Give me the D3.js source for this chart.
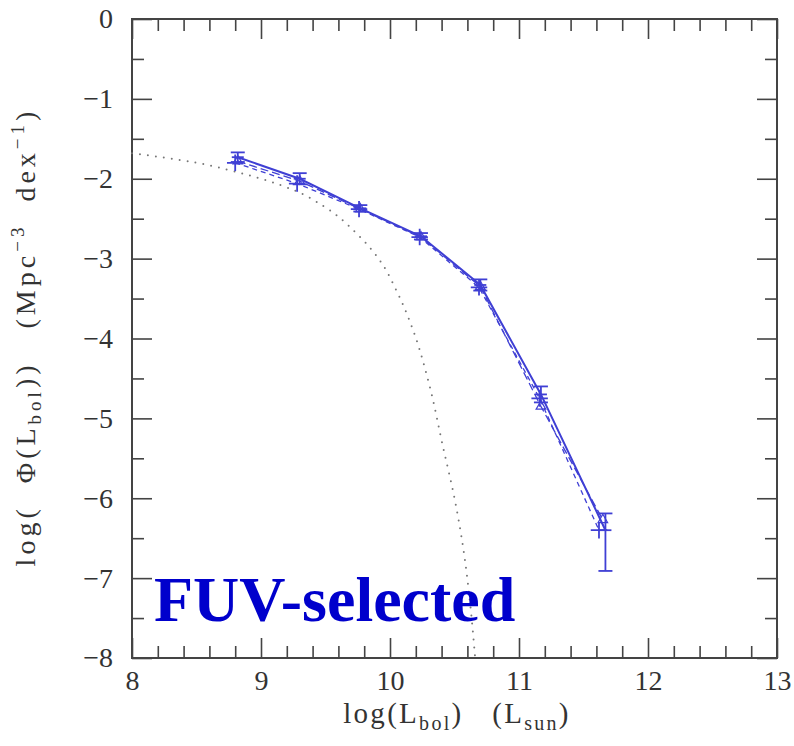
<!DOCTYPE html>
<html>
<head>
<meta charset="utf-8">
<script src="https://cdn.jsdelivr.net/npm/d3@7"></script>
<style>
  body { margin: 0; background: #fff; }
  svg { display: block; }
</style>
</head>
<body>
<div id="chart"></div>
<script>
// luminosity bins, log(L_bol)
const lumBins = [8.82, 9.30, 9.77, 10.24, 10.70, 11.17, 11.67];
// main estimate (solid, error bars)
const phiSolid = [-1.73, -2.00, -2.37, -2.72, -3.33, -4.70, -6.40];
const errUp = [0.06, 0.07, 0.04, 0.04, 0.07, 0.10, 0.21];
const errDown = [0.06, 0.07, 0.04, 0.04, 0.07, 0.10, 0.51];
// second estimate (dashed, crosses)
const lumBinsCross = [8.80, 9.28, 9.76, 10.23, 10.69, 11.16, 11.62];
const phiCross = [-1.80, -2.06, -2.38, -2.73, -3.36, -4.75, -6.40];
// third estimate (dashed, open triangles)
const lumBinsTri = [8.82, 9.30, 9.77, 10.24, 10.70, 11.17, 11.65];
const phiTri = [-1.78, -2.03, -2.38, -2.73, -3.35, -4.85, -6.27];
// local reference function (dotted)
const refLum = [8.0, 8.5, 8.75, 9.0, 9.25, 9.5, 9.75, 9.92, 10.05, 10.18, 10.3, 10.41, 10.5, 10.57, 10.62, 10.66];
const refPhi = [-1.68, -1.80, -1.89, -2.00, -2.14, -2.36, -2.70, -3.02, -3.40, -3.90, -4.55, -5.35, -6.00, -6.65, -7.30, -8.00];

const xMajor = [8, 9, 10, 11, 12, 13];
const yMajor = [0, -1, -2, -3, -4, -5, -6, -7, -8];

const width = 794, height = 746;
const margin = {top: 19, right: 17, bottom: 88, left: 132};

const svg = d3.select("#chart").append("svg")
    .attr("width", width)
    .attr("height", height);

const x = d3.scaleLinear().domain([8, 13]).range([margin.left, width - margin.right]);
const y = d3.scaleLinear().domain([-8, 0]).range([height - margin.bottom, margin.top]);

const xMinor = d3.range(8, 13.001, 0.2).filter(v => Math.abs(v - Math.round(v)) > 0.01);
const yMinor = d3.range(-7.5, 0, 1);

const axisColor = "#444";
const fontTick = "Liberation Serif, Times New Roman, serif";
const bottomY = y(-8), topY = y(0), leftX = x(8), rightX = x(13);

function styleAxis(g) {
    g.select(".domain").remove();
    g.selectAll(".tick line").attr("stroke", axisColor).attr("stroke-width", 1.6);
    g.selectAll(".tick text")
        .attr("fill", "#333")
        .style("font-family", fontTick)
        .style("font-size", "28px");
}

// bottom
svg.append("g").attr("transform", `translate(0,${bottomY})`)
    .call(d3.axisBottom(x).tickValues(xMajor).tickSize(-20).tickPadding(12).tickFormat(d3.format("d")))
    .call(styleAxis);
svg.append("g").attr("transform", `translate(0,${bottomY})`)
    .call(d3.axisBottom(x).tickValues(xMinor).tickSize(-12).tickFormat(""))
    .call(styleAxis);
// top
svg.append("g").attr("transform", `translate(0,${topY})`)
    .call(d3.axisTop(x).tickValues(xMajor).tickSize(-20).tickFormat(""))
    .call(styleAxis);
svg.append("g").attr("transform", `translate(0,${topY})`)
    .call(d3.axisTop(x).tickValues(xMinor).tickSize(-12).tickFormat(""))
    .call(styleAxis);
// left
svg.append("g").attr("transform", `translate(${leftX},0)`)
    .call(d3.axisLeft(y).tickValues(yMajor).tickSize(-20).tickPadding(19).tickFormat(d => d === 0 ? "0" : "\u2212" + Math.abs(d)))
    .call(styleAxis);
svg.append("g").attr("transform", `translate(${leftX},0)`)
    .call(d3.axisLeft(y).tickValues(yMinor).tickSize(-12).tickFormat(""))
    .call(styleAxis);
// right
svg.append("g").attr("transform", `translate(${rightX},0)`)
    .call(d3.axisRight(y).tickValues(yMajor).tickSize(-20).tickFormat(""))
    .call(styleAxis);
svg.append("g").attr("transform", `translate(${rightX},0)`)
    .call(d3.axisRight(y).tickValues(yMinor).tickSize(-12).tickFormat(""))
    .call(styleAxis);

// frame
svg.append("rect")
    .attr("x", leftX).attr("y", topY)
    .attr("width", rightX - leftX).attr("height", bottomY - topY)
    .attr("fill", "none").attr("stroke", axisColor).attr("stroke-width", 2);

const plot = svg.append("g");

// dotted reference curve
const refData = refLum.map((v, i) => ({x: v, y: refPhi[i]}));
plot.append("path")
    .datum(refData)
    .attr("d", d3.line().x(d => x(d.x)).y(d => y(d.y)).curve(d3.curveMonotoneY))
    .attr("fill", "none")
    .attr("stroke", "#777")
    .attr("stroke-width", 2)
    .attr("stroke-linecap", "round")
    .attr("stroke-dasharray", "0,8");

const blue = "#3f3fd4";
const line = d3.line().x(d => x(d.x)).y(d => y(d.y));

const triData = lumBinsTri.map((v, i) => ({x: v, y: phiTri[i]}));
const crossData = lumBinsCross.map((v, i) => ({x: v, y: phiCross[i]}));
const solidData = lumBins.map((v, i) => ({x: v, y: phiSolid[i], up: errUp[i], dn: errDown[i]}));

plot.append("path").datum(triData).attr("d", line)
    .attr("fill", "none").attr("stroke", blue).attr("stroke-width", 1.3)
    .attr("stroke-dasharray", "8,4");
plot.append("path").datum(crossData).attr("d", line)
    .attr("fill", "none").attr("stroke", blue).attr("stroke-width", 1.3)
    .attr("stroke-dasharray", "5,4");
plot.append("path").datum(solidData).attr("d", line)
    .attr("fill", "none").attr("stroke", blue).attr("stroke-width", 2);

// open triangles
plot.append("g").selectAll("path")
    .data(triData)
    .join("path")
    .attr("transform", d => `translate(${x(d.x)},${y(d.y)})`)
    .attr("d", d3.symbol(d3.symbolTriangle, 40))
    .attr("fill", "none").attr("stroke", blue).attr("stroke-width", 1.2);

// crosses
plot.append("g").selectAll("path")
    .data(crossData)
    .join("path")
    .attr("d", d3.symbol(d3.symbolTimes, 90))
    .attr("fill", "none").attr("stroke", blue).attr("stroke-width", 1.8)
    .attr("transform", d => `translate(${x(d.x)},${y(d.y)}) rotate(45)`);

// error bars
const eb = plot.append("g").attr("stroke", blue).attr("stroke-width", 1.8).attr("fill", "none");
eb.selectAll("line.v").data(solidData).join("line").attr("class", "v")
    .attr("x1", d => x(d.x)).attr("x2", d => x(d.x))
    .attr("y1", d => y(d.y + d.up)).attr("y2", d => y(d.y - d.dn));
eb.selectAll("line.t").data(solidData).join("line").attr("class", "t")
    .attr("x1", d => x(d.x) - 7).attr("x2", d => x(d.x) + 7)
    .attr("y1", d => y(d.y + d.up)).attr("y2", d => y(d.y + d.up));
eb.selectAll("line.b").data(solidData).join("line").attr("class", "b")
    .attr("x1", d => x(d.x) - 7).attr("x2", d => x(d.x) + 7)
    .attr("y1", d => y(d.y - d.dn)).attr("y2", d => y(d.y - d.dn));
eb.selectAll("line.h").data(solidData).join("line").attr("class", "h")
    .attr("x1", d => x(d.x) - 6).attr("x2", d => x(d.x) + 6)
    .attr("y1", d => y(d.y)).attr("y2", d => y(d.y));

// axis titles
const titleFont = "Liberation Serif, Times New Roman, serif";
const xt = svg.append("text")
    .attr("x", 457)
    .attr("y", 723)
    .attr("text-anchor", "middle")
    .attr("fill", "#333")
    .style("font-family", titleFont)
    .style("font-size", "29px")
    .style("letter-spacing", "2.3px")
    .style("white-space", "pre");
xt.append("tspan").text("log(L");
xt.append("tspan").attr("dy", 7).style("font-size", "20px").text("bol");
xt.append("tspan").attr("dy", -7).text(")   (L");
xt.append("tspan").attr("dy", 7).style("font-size", "20px").text("sun");
xt.append("tspan").attr("dy", -7).text(")");

const yt = svg.append("text")
    .attr("transform", `translate(35,337) rotate(-90)`)
    .attr("text-anchor", "middle")
    .attr("fill", "#333")
    .style("font-family", titleFont)
    .style("font-size", "28px")
    .style("letter-spacing", "4px")
    .style("white-space", "pre");
yt.append("tspan").text("log(  \u03A6(L");
yt.append("tspan").attr("dy", 6).style("font-size", "19px").text("bol");
yt.append("tspan").attr("dy", -6).text("))   (Mpc");
yt.append("tspan").attr("dy", -11).style("font-size", "19px").text("\u22123");
yt.append("tspan").attr("dy", 11).text("  dex");
yt.append("tspan").attr("dy", -11).style("font-size", "19px").text("\u22121");
yt.append("tspan").attr("dy", 11).text(")");

// label
svg.append("text")
    .attr("x", 154)
    .attr("y", 621)
    .attr("fill", "#0000cc")
    .style("font-family", "Liberation Serif, Times New Roman, serif")
    .style("font-weight", "bold")
    .style("font-size", "64px")
    .text("FUV-selected");
</script>
</body>
</html>
